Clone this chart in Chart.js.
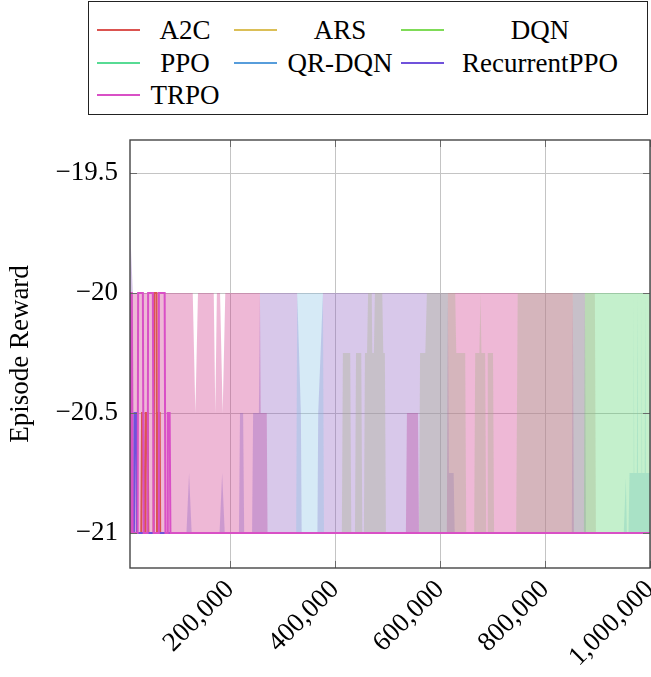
<!DOCTYPE html>
<html><head><meta charset="utf-8">
<script src="https://cdn.jsdelivr.net/npm/chart.js@4/dist/chart.umd.min.js"></script>
<style>
html,body{margin:0;padding:0;background:#fff;}
#wrap{position:relative;width:651px;height:677px;overflow:hidden;}
canvas{position:absolute;left:0;top:0;}
#legend{position:absolute;left:88px;top:1px;width:560px;height:114px;border:1.3px solid #222;box-sizing:border-box;font-family:'Liberation Serif',serif;font-size:27px;color:#000;background:#fff;}
.lg-line{position:absolute;height:2px;width:43px;}
.lg-text{position:absolute;transform:translate(-50%,-50%);white-space:nowrap;line-height:1;}
</style></head>
<body><div id="wrap"><canvas id="c" width="651" height="677"></canvas><div id="legend"></div></div>
<script>
// ---- axis ranges / ticks ----
const xMin = 9500, xMax = 1000000;
const yMin = -21.1458, yMax = -19.3625;
const xTicks = [200000, 400000, 600000, 800000, 1000000];
const yTicks = [-21, -20.5, -20, -19.5];
const algorithms = ['A2C', 'ARS', 'DQN', 'PPO', 'QR-DQN', 'RecurrentPPO', 'TRPO'];
const colors = ['#db5450', '#dbbf57', '#7fdb57', '#57db94', '#579ddb', '#7052db', '#d950c6'];
const bandColors = ['#db5450', '#aab28c', '#56d46d', '#57dbaa', '#8ac3e5', '#9062c3', '#ce348a'];

// ---- mean episode reward lines (timestep, reward) ----
const a2cMeanX = [9500, 31000, 32500, 35000, 36500, 39000, 40000, 43000, 44500, 54500, 55500, 60000, 61000, 63000, 64000, 66000, 67000, 1000000];
const a2cMeanY = [-21, -21, -20.5, -20.5, -21, -21, -20.5, -20.5, -21, -21, -20, -20, -21, -21, -20.5, -20.5, -21, -21];
const arsMeanX = [9500, 1000000];
const arsMeanY = [-21, -21];
const dqnMeanX = [9500, 1000000];
const dqnMeanY = [-21, -21];
const ppoMeanX = [9500, 1000000];
const ppoMeanY = [-21, -21];
const qrdqnMeanX = [9500, 1000000];
const qrdqnMeanY = [-21, -21];
const rppoMeanX = [9500, 11000, 12500, 17000, 18000, 21000, 22500, 1000000];
const rppoMeanY = [-20.5, -20.5, -21, -21, -20.5, -20.5, -21, -21];
const trpoMeanX = [9500, 11000, 13000, 14500, 24000, 25000, 34000, 35500, 43000, 44000, 53000, 54500, 63000, 64500, 75500, 77000, 80000, 81500, 85000, 86500, 1000000];
const trpoMeanY = [-21, -20, -20, -21, -21, -20, -20, -21, -21, -20, -20, -21, -21, -20, -20, -21, -21, -20.5, -20.5, -21, -21];

// ---- upper edge of the spread band (band goes down to -21) ----
const a2cBandX = [9500, 1000000];
const a2cBandY = [-21, -21];
const arsBandX = [9500, 413000, 415000, 429000, 431000, 438000, 440000, 450000, 452000, 455000, 457000, 461000, 463000, 470000, 471000, 474000, 476000, 490000, 492000, 495000, 497000, 560000, 562000, 572000, 575000, 629000, 631000, 648000, 650000, 665000, 667000, 675000, 677000, 679000, 686000, 688000, 690000, 691000, 701000, 703000, 745000, 748000, 895000, 897000, 1000000];
const arsBandY = [-21, -21, -20.25, -20.25, -21, -21, -20.25, -20.25, -21, -21, -20.25, -20.25, -20, -20, -20.25, -20.25, -20, -20, -20.25, -20.25, -21, -21, -20.25, -20.25, -20, -20, -20.25, -20.25, -21, -21, -20.25, -20.25, -20, -20.25, -20.25, -21, -21, -20.25, -20.25, -21, -21, -20, -20, -21, -21];
const dqnBandX = [9500, 874000, 876000, 1000000];
const dqnBandY = [-21, -21, -20, -20];
const ppoBandX = [9500, 1000000];
const ppoBandY = [-21, -21];
const qrdqnBandX = [9500, 326000, 328000, 377000, 379000, 950000, 954000, 956000, 959000, 961000, 968000, 969000, 970000, 975000, 976000, 977000, 983000, 984000, 985000, 990000, 991000, 992000, 1000000];
const qrdqnBandY = [-21, -21, -20, -20, -21, -21, -20.77, -21, -21, -20.75, -20.75, -20, -20.75, -20.75, -20, -20.75, -20.75, -20, -20.75, -20.75, -20, -20.75, -20.75];
const rppoBandX = [9500, 11000, 15000, 17000, 117000, 122000, 127000, 180000, 185000, 190000, 217000, 219000, 225000, 227000, 242000, 244000, 255000, 257000, 328000, 335000, 336500, 366500, 368000, 377000, 615000, 617000, 626000, 628000, 851000, 853000, 876000, 878000, 1000000];
const rppoBandY = [-19.6, -19.8, -20, -21, -21, -20.75, -21, -21, -20.75, -21, -21, -20.5, -20.5, -21, -21, -20.5, -20.5, -20, -20, -20.5, -21, -21, -20.5, -20, -20, -20.75, -20.75, -21, -21, -20, -20, -21, -21];
const trpoBandX = [9500, 129000, 134000, 139000, 169000, 172000, 175000, 181000, 186000, 191000, 257000, 258500, 270000, 271500, 535000, 537000, 558000, 560000, 613000, 615000, 853000, 855000, 1000000];
const trpoBandY = [-20, -20, -20.5, -20, -20, -20.5, -20, -20, -20.5, -20, -20, -20.5, -20.5, -21, -21, -20.5, -20.5, -21, -21, -20, -20, -21, -21];

const meanXs = [a2cMeanX, arsMeanX, dqnMeanX, ppoMeanX, qrdqnMeanX, rppoMeanX, trpoMeanX];
const meanYs = [a2cMeanY, arsMeanY, dqnMeanY, ppoMeanY, qrdqnMeanY, rppoMeanY, trpoMeanY];
const bandXs = [a2cBandX, arsBandX, dqnBandX, ppoBandX, qrdqnBandX, rppoBandX, trpoBandX];
const bandYs = [a2cBandY, arsBandY, dqnBandY, ppoBandY, qrdqnBandY, rppoBandY, trpoBandY];

const FONT = "'Liberation Serif', serif";
const FS = 27;
const pts = (xs, ys) => xs.map((x, i) => ({x: x, y: ys[i]}));
const rgba = (hex, a) => {
  const n = parseInt(hex.slice(1), 16);
  return `rgba(${(n >> 16) & 255},${(n >> 8) & 255},${n & 255},${a})`;
};

const datasets = [];
algorithms.forEach((name, i) => {
  datasets.push({
    label: name + ' band', data: pts(bandXs[i], bandYs[i]),
    borderWidth: 0, pointRadius: 0, backgroundColor: rgba(bandColors[i], 0.35),
    fill: {value: -21}, order: 20 + i
  });
});
algorithms.forEach((name, i) => {
  datasets.push({
    label: name, data: pts(meanXs[i], meanYs[i]),
    borderColor: colors[i], borderWidth: 2, pointRadius: 0, fill: false,
    order: algorithms.length - 1 - i
  });
});

const framePlugin = {
  id: 'frame',
  afterDatasetsDraw(chart) {
    const {ctx, chartArea: a, scales: {x, y}} = chart;
    ctx.save();
    ctx.strokeStyle = '#6a6a6a'; ctx.lineWidth = 1;
    ctx.beginPath();
    xTicks.forEach(v => {
      const p = Math.round(x.getPixelForValue(v)) + 0.5;
      ctx.moveTo(p, a.bottom); ctx.lineTo(p, a.bottom - 7);
      ctx.moveTo(p, a.top); ctx.lineTo(p, a.top + 7);
    });
    yTicks.forEach(v => {
      const p = Math.round(y.getPixelForValue(v)) + 0.5;
      ctx.moveTo(a.left, p); ctx.lineTo(a.left + 7, p);
      ctx.moveTo(a.right, p); ctx.lineTo(a.right - 7, p);
    });
    ctx.stroke();
    ctx.strokeStyle = '#454545'; ctx.lineWidth = 1.4;
    ctx.strokeRect(a.left, a.top, a.right - a.left, a.bottom - a.top);
    ctx.restore();
  }
};

new Chart(document.getElementById('c'), {
  type: 'line',
  data: {datasets: datasets},
  options: {
    responsive: false, animation: false, devicePixelRatio: 1,
    parsing: false,
    layout: {padding: {top: 140, left: 0, right: 1, bottom: 0}},
    plugins: {legend: {display: false}, tooltip: {enabled: false}},
    elements: {line: {tension: 0}},
    scales: {
      x: {
        type: 'linear', min: xMin, max: xMax,
        afterBuildTicks: s => { s.ticks = xTicks.map(v => ({value: v})); },
        afterFit: s => { s.height = 109; s.paddingLeft = 0; s.paddingRight = 0; },
        ticks: {
          minRotation: 45, maxRotation: 45, padding: 6, color: '#000',
          font: {family: FONT, size: FS},
          callback: v => Number(v).toLocaleString('en-US')
        },
        grid: {color: '#c4c4c4', lineWidth: 1, drawTicks: false},
        border: {display: false}
      },
      y: {
        type: 'linear', min: yMin, max: yMax,
        afterBuildTicks: s => { s.ticks = yTicks.map(v => ({value: v})); },
        afterFit: s => { s.width = 130; s.paddingTop = 0; s.paddingBottom = 0; },
        ticks: {
          padding: 12, color: '#000', font: {family: FONT, size: FS},
          callback: v => (v < 0 ? '\u2212' : '') + Math.abs(v)
        },
        grid: {color: '#c4c4c4', lineWidth: 1, drawTicks: false},
        border: {display: false},
        title: {display: true, text: 'Episode Reward', color: '#000',
                font: {family: FONT, size: FS}, padding: {top: 5, bottom: 0}}
      }
    }
  },
  plugins: [framePlugin]
});

// ---- legend (3 columns, pgfplots style) ----
const lg = document.getElementById('legend');
const lineLeft = [8, 145, 312];
const textCenter = [96, 251, 451];
const rowCenter = [28, 61, 93];
algorithms.forEach((name, i) => {
  const col = i % 3, row = Math.floor(i / 3);
  const ln = document.createElement('div');
  ln.className = 'lg-line';
  ln.style.left = lineLeft[col] + 'px';
  ln.style.top = (rowCenter[row] - 1) + 'px';
  ln.style.background = colors[i];
  lg.appendChild(ln);
  const tx = document.createElement('div');
  tx.className = 'lg-text';
  tx.style.left = textCenter[col] + 'px';
  tx.style.top = rowCenter[row] + 'px';
  tx.textContent = name;
  lg.appendChild(tx);
});
</script>
</body></html>
